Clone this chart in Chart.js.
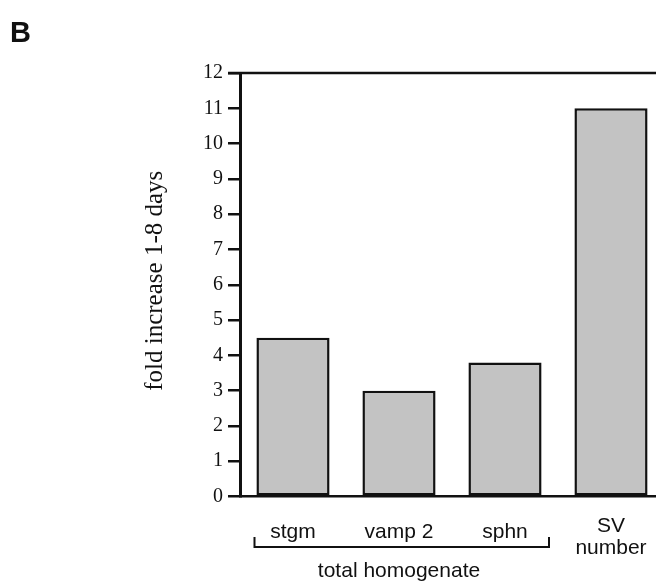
<!DOCTYPE html>
<html>
<head>
<meta charset="utf-8">
<script src="https://cdn.jsdelivr.net/npm/chart.js@4"></script>
<style>
  html, body { margin: 0; padding: 0; background: #fff; overflow: hidden; }
  #wrap { position: relative; width: 656px; height: 581px; overflow: hidden; }
  #c { position: absolute; left: 0; top: 0; }
</style>
</head>
<body>
<div id="wrap"><canvas id="c" width="680" height="581"></canvas></div>
<script>
const categories = ['stgm', 'vamp 2', 'sphn', 'SV\nnumber'];
const foldIncrease = [4.5, 3.0, 3.8, 11.0];
const yTicks = [0, 1, 2, 3, 4, 5, 6, 7, 8, 9, 10, 11, 12];
const yTitle = 'fold increase 1-8 days';
const groupLabel = 'total homogenate';
const panelLetter = 'B';

const INK = '#111';

const extras = {
  id: 'extras',
  afterDraw(chart) {
    const ctx = chart.ctx;
    const x = chart.scales.x, y = chart.scales.y;
    ctx.save();
    ctx.fillStyle = INK;
    ctx.strokeStyle = INK;

    // top frame line
    const yTop = y.getPixelForValue(yTicks[yTicks.length - 1]);
    ctx.lineWidth = 2.5;
    ctx.beginPath();
    ctx.moveTo(chart.chartArea.left - 12, yTop);
    ctx.lineTo(chart.width, yTop);
    ctx.stroke();

    // panel letter
    ctx.font = 'bold 29px "Liberation Sans", Arial, sans-serif';
    ctx.textAlign = 'left';
    ctx.textBaseline = 'alphabetic';
    ctx.fillText(panelLetter, 10, 42);

    // y title
    ctx.save();
    ctx.translate(162, (chart.chartArea.top + chart.chartArea.bottom) / 2 - 4);
    ctx.rotate(-Math.PI / 2);
    ctx.font = '25px "Liberation Serif", "Times New Roman", serif';
    ctx.textAlign = 'center';
    ctx.fillText(yTitle, 0, 0);
    ctx.restore();

    // category labels
    ctx.font = '21px "Liberation Sans", Arial, sans-serif';
    ctx.textAlign = 'center';
    categories.forEach((lab, i) => {
      const cx = x.getPixelForValue(i);
      const lines = lab.split('\n');
      if (lines.length === 1) {
        ctx.fillText(lines[0], cx, 538);
      } else {
        ctx.fillText(lines[0], cx, 532);
        ctx.fillText(lines[1], cx, 554);
      }
    });

    // bracket under first three
    const bx0 = x.getPixelForValue(0) - 38.5;
    const bx1 = x.getPixelForValue(2) + 44;
    ctx.lineWidth = 2;
    ctx.beginPath();
    ctx.moveTo(bx0, 537);
    ctx.lineTo(bx0, 547);
    ctx.lineTo(bx1, 547);
    ctx.lineTo(bx1, 537);
    ctx.stroke();

    ctx.fillText(groupLabel, x.getPixelForValue(1), 577);
    ctx.restore();
  }
};

new Chart(document.getElementById('c'), {
  type: 'bar',
  data: {
    labels: categories,
    datasets: [{
      data: foldIncrease,
      backgroundColor: '#c3c3c3',
      borderColor: INK,
      borderWidth: 2.5,
      borderSkipped: false,
      barPercentage: 0.69,
      categoryPercentage: 1.0
    }]
  },
  options: {
    responsive: false,
    animation: false,
    devicePixelRatio: 1,
    layout: { padding: { left: 0, right: 16, top: 73, bottom: 0 } },
    plugins: { legend: { display: false }, tooltip: { enabled: false }, title: { display: false } },
    scales: {
      x: {
        type: 'category',
        offset: true,
        ticks: { display: false },
        grid: { display: true, drawOnChartArea: false, drawTicks: false },
        border: { display: true, color: INK, width: 2.5 },
        afterFit(s) { s.height = 84.5; }
      },
      y: {
        min: yTicks[0],
        max: yTicks[yTicks.length - 1],
        afterBuildTicks(s) { s.ticks = yTicks.map(v => ({ value: v })); },
        ticks: {
          color: INK,
          padding: 5,
          font: { family: '"Liberation Serif", "Times New Roman", serif', size: 20 }
        },
        grid: { display: true, drawOnChartArea: false, drawTicks: true, tickLength: 12, color: INK, lineWidth: 2.5 },
        border: { display: true, color: INK, width: 3 },
        afterFit(s) { s.width = 240; }
      }
    }
  },
  plugins: [extras]
});
</script>
</body>
</html>
